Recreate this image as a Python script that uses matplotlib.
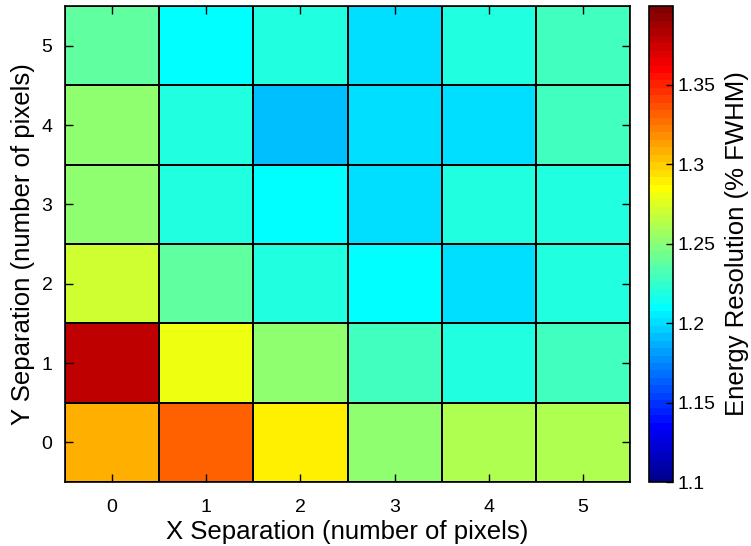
import numpy as np
import matplotlib
matplotlib.use("Agg")
import matplotlib.pyplot as plt
from matplotlib.colors import ListedColormap, Normalize

plt.rcParams['font.family'] = ['Liberation Sans', 'DejaVu Sans']

x_sep = [0, 1, 2, 3, 4, 5]
y_sep = [0, 1, 2, 3, 4, 5]

# energy resolution (% FWHM), one list per y separation
res_y0 = [1.308, 1.332, 1.289, 1.252, 1.261, 1.261]
res_y1 = [1.378, 1.280, 1.252, 1.229, 1.219, 1.229]
res_y2 = [1.271, 1.238, 1.219, 1.210, 1.201, 1.219]
res_y3 = [1.252, 1.219, 1.210, 1.201, 1.219, 1.219]
res_y4 = [1.252, 1.219, 1.191, 1.201, 1.201, 1.229]
res_y5 = [1.238, 1.210, 1.219, 1.201, 1.219, 1.229]

cbar_ticks = [1.1, 1.15, 1.2, 1.25, 1.3, 1.35]
c_lo, c_hi = 1.1, 1.3994


def matlab_jet(m=64):
    # same construction as MATLAB's jet(m)
    n = int(np.ceil(m / 4))
    u = np.concatenate([np.arange(1, n + 1) / n, np.ones(n - 1), np.arange(n, 0, -1) / n])
    g = int(np.ceil(n / 2)) - (1 if m % 4 == 1 else 0) + np.arange(1, len(u) + 1)
    r = g + n
    b = g - n
    J = np.zeros((m, 3))
    J[r[r <= m] - 1, 0] = u[r <= m]
    J[g[g <= m] - 1, 1] = u[g <= m]
    J[b[b >= 1] - 1, 2] = u[b >= 1]
    return ListedColormap(J)


grid = np.array([res_y0, res_y1, res_y2, res_y3, res_y4, res_y5])
x_edges = np.append(np.array(x_sep) - 0.5, x_sep[-1] + 0.5)
y_edges = np.append(np.array(y_sep) - 0.5, y_sep[-1] + 0.5)

fig = plt.figure(figsize=(7.51, 5.46), dpi=100)
ax = fig.add_axes([0.0866, 0.1172, 0.7523, 0.8718])
cax = fig.add_axes([0.8642, 0.1172, 0.0320, 0.8718])

norm = Normalize(vmin=c_lo, vmax=c_hi)
mesh = ax.pcolormesh(x_edges, y_edges, grid, cmap=matlab_jet(64), norm=norm,
                     edgecolors='k', linewidth=1.2)

ax.set_xlim(x_edges[0], x_edges[-1])
ax.set_ylim(y_edges[0], y_edges[-1])
ax.set_xticks(x_sep)
ax.set_yticks(y_sep)
ax.tick_params(direction='in', top=True, right=True, length=6, width=1,
               labelsize=14)
ax.tick_params(axis='x', pad=12)
ax.tick_params(axis='y', pad=9)
for s in ax.spines.values():
    s.set_linewidth(1.2)
ax.set_xlabel('X Separation (number of pixels)', fontsize=18.5, labelpad=3)
ax.set_ylabel('Y Separation (number of pixels)', fontsize=18.5, labelpad=5)

cb = fig.colorbar(mesh, cax=cax, ticks=cbar_ticks)
cb.ax.set_yticklabels(['%g' % t for t in cbar_ticks])
cb.ax.tick_params(direction='in', length=5, width=1, labelsize=14, pad=3)
cb.outline.set_linewidth(1.2)
cb.set_label('Energy Resolution (% FWHM)', fontsize=18.5, labelpad=7)

fig.savefig('out.png', dpi=100)
